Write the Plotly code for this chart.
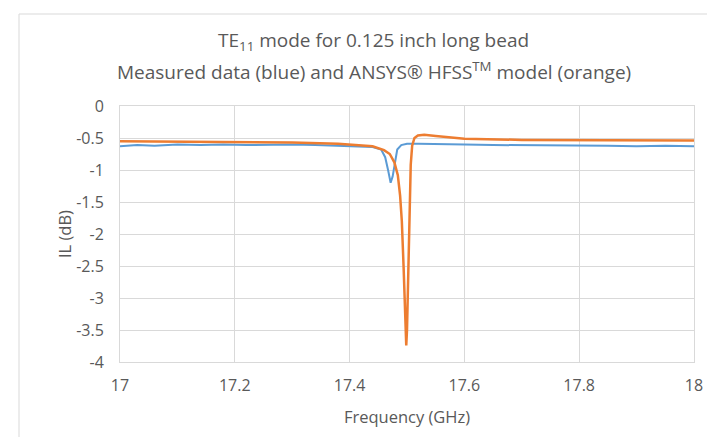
import plotly.graph_objects as go

# Measured data (blue)
meas_freq = [17.0, 17.03, 17.06, 17.1, 17.14, 17.18, 17.22, 17.26, 17.3, 17.34, 17.38,
             17.42, 17.44, 17.455, 17.462, 17.467, 17.4715, 17.475, 17.479, 17.483,
             17.49, 17.5, 17.52, 17.56, 17.6, 17.65, 17.7, 17.75, 17.8, 17.85, 17.9,
             17.95, 18.0]
meas_il = [-0.63, -0.61, -0.62, -0.6, -0.61, -0.6, -0.61, -0.6, -0.6, -0.61, -0.62,
           -0.63, -0.64, -0.68, -0.8, -1.0, -1.2, -1.1, -0.85, -0.68,
           -0.61, -0.59, -0.59, -0.6, -0.6, -0.61, -0.61, -0.62, -0.62, -0.62, -0.63,
           -0.62, -0.63]

# ANSYS HFSS model (orange)
model_freq = [17.0, 17.1, 17.2, 17.3, 17.38, 17.42, 17.44, 17.46, 17.47, 17.478,
              17.484, 17.488, 17.491, 17.494, 17.497, 17.4987, 17.5, 17.502, 17.504,
              17.5065, 17.509, 17.513, 17.519, 17.53, 17.55, 17.6, 17.7, 17.8, 17.9, 18.0]
model_il = [-0.55, -0.56, -0.56, -0.57, -0.59, -0.61, -0.63, -0.69, -0.75, -0.88,
            -1.08, -1.4, -1.8, -2.5, -3.36, -3.74, -3.5, -2.8, -2.0,
            -0.92, -0.62, -0.5, -0.46, -0.45, -0.47, -0.51, -0.53, -0.53, -0.54, -0.54]

x_ticks = [17, 17.2, 17.4, 17.6, 17.8, 18]
x_tick_labels = ["17", "17.2", "17.4", "17.6", "17.8", "18"]
y_ticks = [0, -0.5, -1, -1.5, -2, -2.5, -3, -3.5, -4]
y_tick_labels = ["0", "-0.5", "-1", "-1.5", "-2", "-2.5", "-3", "-3.5", "-4"]

title_line1 = "TE<sub>11</sub> mode for 0.125 inch long bead"
title_line2 = "Measured data (blue) and ANSYS® HFSS<sup>TM</sup> model (orange)"

FONT = "Open Sans"
TXT = "#595959"
GRID = "#d9d9d9"

fig = go.Figure()
fig.add_trace(go.Scatter(x=meas_freq, y=meas_il, mode="lines",
                         line=dict(color="#5B9BD5", width=2), name="Measured"))
fig.add_trace(go.Scatter(x=model_freq, y=model_il, mode="lines",
                         line=dict(color="#ED7D31", width=2.5), name="HFSS model"))

W, H = 715, 437
L, R, T, B = 112, 29, 98, 83
pw, ph = W - L - R, H - T - B

def px(x):
    return (x - L) / pw

def py(y):
    return (H - B - y) / ph

fig.update_layout(
    width=W, height=H,
    margin=dict(l=L, r=R, t=T, b=B),
    paper_bgcolor="white", plot_bgcolor="white",
    showlegend=False,
    font=dict(family=FONT, color=TXT, size=16),
    xaxis=dict(range=[17, 18], tickvals=x_ticks, ticktext=x_tick_labels,
               showgrid=True, gridcolor=GRID, gridwidth=1, zeroline=False,
               showline=True, linecolor=GRID, mirror=True, ticks="",
               ticklabelstandoff=9, tickfont=dict(size=16),
               title=dict(text="Frequency (GHz)", font=dict(size=16.5), standoff=16)),
    yaxis=dict(range=[-4, 0], tickvals=y_ticks, ticktext=y_tick_labels,
               showgrid=True, gridcolor=GRID, gridwidth=1, zeroline=False,
               showline=True, linecolor=GRID, mirror=True, ticks="",
               ticklabelstandoff=12, tickfont=dict(size=16),
               title=dict(text="IL (dB)", font=dict(size=16.5), standoff=0)),
    shapes=[
        dict(type="line", xref="paper", yref="paper", x0=px(11), x1=px(11),
             y0=py(6), y1=py(437), line=dict(color=GRID, width=1)),
        dict(type="line", xref="paper", yref="paper", x0=px(11), x1=px(716),
             y0=py(6), y1=py(6), line=dict(color=GRID, width=1)),
        dict(type="line", xref="paper", yref="paper", x0=px(11), x1=px(716),
             y0=py(436), y1=py(436), line=dict(color=GRID, width=1)),
    ],
    annotations=[
        dict(text=title_line1, xref="paper", yref="paper", x=px(365), y=py(33),
             showarrow=False, xanchor="center", yanchor="middle",
             font=dict(size=19, color=TXT, family=FONT)),
        dict(text=title_line2, xref="paper", yref="paper", x=px(366), y=py(63),
             showarrow=False, xanchor="center", yanchor="middle",
             font=dict(size=19, color=TXT, family=FONT)),
    ],
)

fig.write_html("out.html")
